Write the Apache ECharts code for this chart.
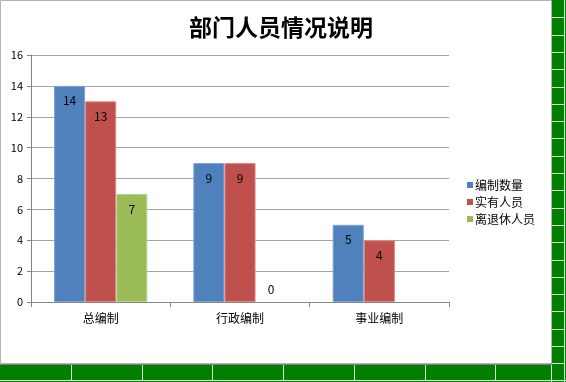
<!DOCTYPE html>
<html>
<head>
<meta charset="utf-8">
<script src="https://cdn.jsdelivr.net/npm/echarts@6/dist/echarts.min.js"></script>
<style>
html,body{margin:0;padding:0;background:#fff;}
#c{width:566px;height:382px;}
</style>
</head>
<body>
<div id="c"></div>
<script>
var title = '部门人员情况说明';
var categories = ['总编制', '行政编制', '事业编制'];
var seriesNames = ['编制数量', '实有人员', '离退休人员'];
var quota = [14, 9, 5];
var actual = [13, 9, 4];
var retired = [7, 0, null];
var yTicks = {min: 0, max: 16, interval: 2};

var colors = ['#4F81BD', '#C0504D', '#9BBB59'];
var borders = ['#7FA3D2', '#D98A88', '#BDD38E'];
var font = '"Noto Sans CJK SC", "Liberation Sans", sans-serif';

function makeData(arr) {
  return arr.map(function (v) {
    if (v === 0) {
      return {value: v, itemStyle: {borderWidth: 0}, label: {position: 'top', distance: 7}};
    }
    return v;
  });
}

// decorative spreadsheet background
var graphics = [];
var G = '#017f01', W = '#d8f0d8';
graphics.push({type: 'rect', shape: {x: 551, y: 0, width: 15, height: 382}, style: {fill: G}, z: 0});
graphics.push({type: 'rect', shape: {x: 0, y: 364, width: 566, height: 18}, style: {fill: G}, z: 0});
for (var k = 1; k <= 21; k++) {
  var y = Math.round(17.3 * k) + 0.5;
  graphics.push({type: 'line', shape: {x1: 552, y1: y, x2: 564, y2: y}, style: {stroke: W, lineWidth: 1}, z: 1});
}
graphics.push({type: 'line', shape: {x1: 564.5, y1: 0, x2: 564.5, y2: 382}, style: {stroke: W, lineWidth: 1}, z: 1});
graphics.push({type: 'line', shape: {x1: 0, y1: 380.5, x2: 566, y2: 380.5}, style: {stroke: W, lineWidth: 1}, z: 1});
for (var j = 1; j <= 7; j++) {
  var x = Math.round(70.75 * j) + 0.5;
  graphics.push({type: 'line', shape: {x1: x, y1: 365, x2: x, y2: 380}, style: {stroke: W, lineWidth: 1}, z: 1});
}
graphics.push({type: 'line', shape: {x1: 551.5, y1: 364, x2: 551.5, y2: 382}, style: {stroke: W, lineWidth: 1}, z: 1});
// chart area border
graphics.push({type: 'rect', shape: {x: 0.5, y: 0.5, width: 551, height: 363}, style: {fill: 'none', stroke: '#b4b4b4', lineWidth: 1}, z: 2});
graphics.push({type: 'line', shape: {x1: 0, y1: 364.5, x2: 552, y2: 364.5}, style: {stroke: '#808080', lineWidth: 1}, z: 2});

var chart = echarts.init(document.getElementById('c'), null, {renderer: 'canvas'});
chart.setOption({
  animation: false,
  backgroundColor: '#fff',
  textStyle: {fontFamily: font},
  title: {
    text: title,
    left: 276, top: 11, textAlign: 'center',
    textStyle: {fontSize: 23, fontWeight: 'bold', color: '#000', fontFamily: font}
  },
  legend: {
    orient: 'vertical',
    left: 462, top: 174,
    itemWidth: 6, itemHeight: 6, itemGap: 5,
    icon: 'rect',
    itemStyle: {borderWidth: 0},
    textStyle: {fontSize: 12, color: '#000', fontFamily: font, padding: [0, 0, 0, -3]},
    data: seriesNames
  },
  grid: {left: 31, top: 55, width: 418, height: 247},
  xAxis: {
    type: 'category',
    data: categories,
    axisLine: {lineStyle: {color: '#868686'}},
    axisTick: {show: true, length: 5, lineStyle: {color: '#868686'}},
    axisLabel: {color: '#000', fontSize: 12, margin: 10, fontFamily: font}
  },
  yAxis: {
    type: 'value',
    min: yTicks.min, max: yTicks.max, interval: yTicks.interval,
    axisLine: {show: true, lineStyle: {color: '#868686'}},
    axisTick: {show: true, length: 4, lineStyle: {color: '#868686'}},
    splitLine: {lineStyle: {color: '#a6a6a6'}},
    axisLabel: {color: '#000', fontSize: 11, margin: 8, fontFamily: font}
  },
  series: [quota, actual, retired].map(function (arr, i) {
    return {
      name: seriesNames[i],
      type: 'bar',
      data: makeData(arr),
      barGap: '0%',
      barCategoryGap: '33%',
      itemStyle: {color: colors[i], borderColor: borders[i], borderWidth: 1},
      label: {show: true, position: 'insideTop', distance: 9, color: '#000', fontSize: 12, fontFamily: font}
    };
  }),
  graphic: graphics
});
</script>
</body>
</html>
